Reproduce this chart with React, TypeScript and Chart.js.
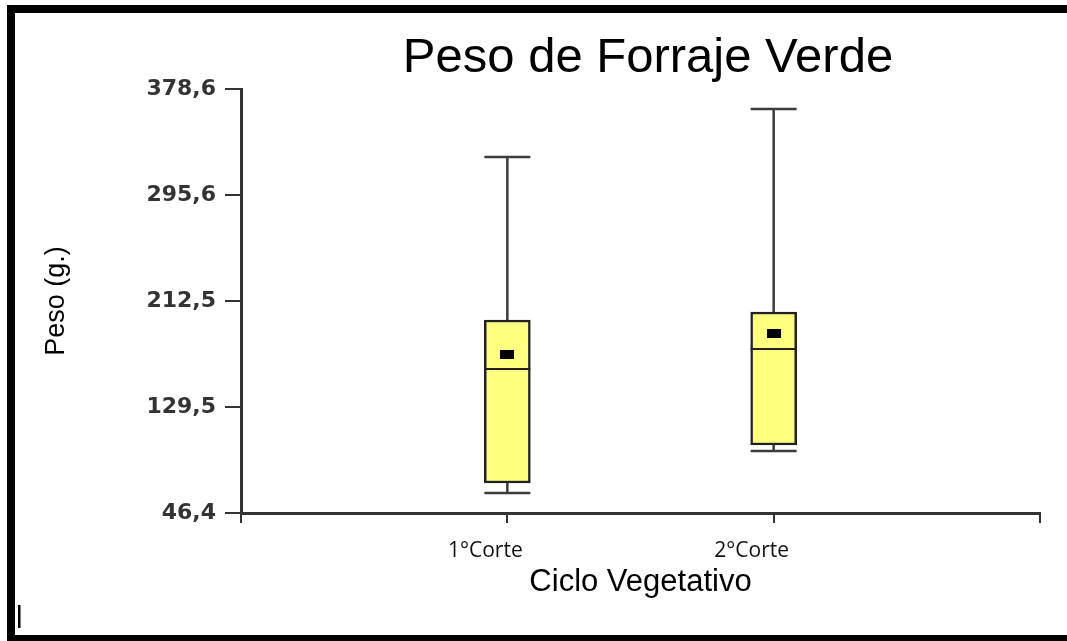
import React, { useEffect, useRef } from 'react';
import { Chart, registerables } from 'chart.js';

Chart.register(...registerables);

// ---- Data ----
const categories = ['1°Corte', '2°Corte'];
const categoryPositions = [1, 2];
const whiskerMin = [62.1, 95.0];
const q1Values = [69.9, 99.7];
const medianValues = [159.2, 174.9];
const q3Values = [197.6, 203.9];
const whiskerMax = [325.3, 362.9];
const meanValues = [170.2, 187.4];

const yTicks = [46.4, 129.5, 212.5, 295.6, 378.6];
const yTickLabels = ['46,4', '129,5', '212,5', '295,6', '378,6'];
const xTickPositions = [0, 1, 2, 3];
const xTickLabels = ['', categories[0], categories[1], ''];

const TITLE = 'Peso de Forraje Verde';
const Y_TITLE = 'Peso (g.)';
const X_TITLE = 'Ciclo Vegetativo';

const boxPlugin = {
  id: 'boxWhiskers',
  beforeDatasetsDraw(chart: any) {
    const { ctx, scales } = chart;
    const x = scales.x;
    const y = scales.y;
    const meta = chart.getDatasetMeta(0);
    ctx.save();
    ctx.strokeStyle = '#3c3c3c';
    ctx.lineWidth = 2.5;
    categoryPositions.forEach((pos, i) => {
      const cx = x.getPixelForValue(pos);
      const el = meta.data[i];
      const half = (el ? el.width : 46) / 2;
      const yMax = y.getPixelForValue(whiskerMax[i]);
      const yQ3 = y.getPixelForValue(q3Values[i]);
      const yQ1 = y.getPixelForValue(q1Values[i]);
      const yMin = y.getPixelForValue(whiskerMin[i]);
      ctx.beginPath();
      ctx.moveTo(cx, yMax);
      ctx.lineTo(cx, yQ3);
      ctx.moveTo(cx, yQ1);
      ctx.lineTo(cx, yMin);
      ctx.moveTo(cx - half, yMax);
      ctx.lineTo(cx + half, yMax);
      ctx.moveTo(cx - half, yMin);
      ctx.lineTo(cx + half, yMin);
      ctx.stroke();
    });
    ctx.restore();
  },
  afterDatasetsDraw(chart: any) {
    const { ctx, scales } = chart;
    const x = scales.x;
    const y = scales.y;
    const meta = chart.getDatasetMeta(0);
    ctx.save();
    ctx.strokeStyle = '#222';
    ctx.lineWidth = 2;
    categoryPositions.forEach((pos, i) => {
      const cx = x.getPixelForValue(pos);
      const el = meta.data[i];
      const half = (el ? el.width : 46) / 2;
      const ym = y.getPixelForValue(medianValues[i]);
      ctx.beginPath();
      ctx.moveTo(cx - half, ym);
      ctx.lineTo(cx + half, ym);
      ctx.stroke();
    });
    ctx.restore();
  },
};

const framePlugin = {
  id: 'frameAndTitle',
  afterDraw(chart: any) {
    const { ctx } = chart;
    ctx.save();
    ctx.fillStyle = '#000';
    ctx.fillRect(7, 5, 1060, 8);
    ctx.fillRect(7, 5, 8, 636);
    ctx.fillRect(7, 635, 1060, 6);
    ctx.fillRect(18, 605, 2.5, 23);
    ctx.font = '49px "Liberation Sans", Arial, sans-serif';
    ctx.textAlign = 'center';
    ctx.textBaseline = 'alphabetic';
    ctx.fillStyle = '#000';
    ctx.fillText(TITLE, 648, 72);
    ctx.restore();
  },
};

function makeMeanMarker(): HTMLCanvasElement {
  const c = document.createElement('canvas');
  c.width = 14;
  c.height = 9;
  const g = c.getContext('2d');
  if (g) {
    g.fillStyle = '#000';
    g.fillRect(0, 0, 14, 9);
  }
  return c;
}

export default function App() {
  const canvasRef = useRef<HTMLCanvasElement | null>(null);

  useEffect(() => {
    if (!canvasRef.current) return;
    const marker = makeMeanMarker();
    const chart = new Chart(canvasRef.current, {
      type: 'bar',
      data: {
        datasets: [
          {
            type: 'bar',
            label: 'Caja',
            data: categoryPositions.map((p, i) => ({ x: p, y: [q1Values[i], q3Values[i]] })) as any,
            backgroundColor: '#ffff80',
            borderColor: '#222',
            borderWidth: 2.5,
            borderSkipped: false,
            barThickness: 46,
            order: 2,
          } as any,
          {
            type: 'scatter',
            label: 'Media',
            data: categoryPositions.map((p, i) => ({ x: p, y: meanValues[i] })),
            pointStyle: marker as any,
            pointRadius: 7,
            order: 1,
          } as any,
        ],
      },
      options: {
        animation: false,
        responsive: false,
        devicePixelRatio: 1,
        layout: { padding: { top: 89, right: 27, bottom: 0, left: 0 } },
        plugins: {
          legend: { display: false },
          tooltip: { enabled: false },
          title: { display: false },
        },
        scales: {
          x: {
            type: 'linear',
            min: 0,
            max: 3,
            offset: false,
            afterBuildTicks: (scale: any) => {
              scale.ticks = xTickPositions.map((v) => ({ value: v }));
            },
            afterFit: (scale: any) => {
              scale.height = 128;
            },
            ticks: {
              autoSkip: false,
              maxRotation: 0,
              padding: 15,
              labelOffset: -22,
              color: '#111',
              font: { family: '"Open Sans", sans-serif', size: 21 },
              callback: (_v: any, idx: number) => xTickLabels[idx],
            },
            grid: {
              display: true,
              offset: false,
              drawOnChartArea: false,
              drawTicks: true,
              tickLength: 10,
              color: '#333',
              lineWidth: 2,
            },
            border: { display: true, color: '#333', width: 3 },
            title: {
              display: true,
              text: X_TITLE,
              color: '#000',
              font: { family: '"Liberation Sans", Arial, sans-serif', size: 31 },
              padding: { top: 0, bottom: 40 },
            },
          },
          y: {
            type: 'linear',
            min: 46.4,
            max: 378.6,
            afterBuildTicks: (scale: any) => {
              scale.ticks = yTicks.map((v) => ({ value: v }));
            },
            afterFit: (scale: any) => {
              scale.width = 241;
            },
            ticks: {
              autoSkip: false,
              padding: 9,
              color: '#333',
              font: { family: '"DejaVu Sans", sans-serif', size: 22, weight: 'bold' },
              callback: (_v: any, idx: number) => yTickLabels[idx],
            },
            grid: {
              display: true,
              drawOnChartArea: false,
              drawTicks: true,
              tickLength: 16,
              color: '#333',
              lineWidth: 2,
            },
            border: { display: true, color: '#333', width: 3 },
            title: {
              display: true,
              text: Y_TITLE,
              color: '#000',
              font: { family: '"Liberation Sans", Arial, sans-serif', size: 27 },
              padding: { top: 40, bottom: 0 },
            },
          },
        },
      },
      plugins: [boxPlugin, framePlugin],
    });
    return () => chart.destroy();
  }, []);

  return (
    <div style={{ position: 'fixed', left: 0, top: 0, width: 1067, height: 641, background: '#fff' }}>
      <canvas ref={canvasRef} width={1067} height={641} style={{ display: 'block', width: 1067, height: 641 }} />
    </div>
  );
}
